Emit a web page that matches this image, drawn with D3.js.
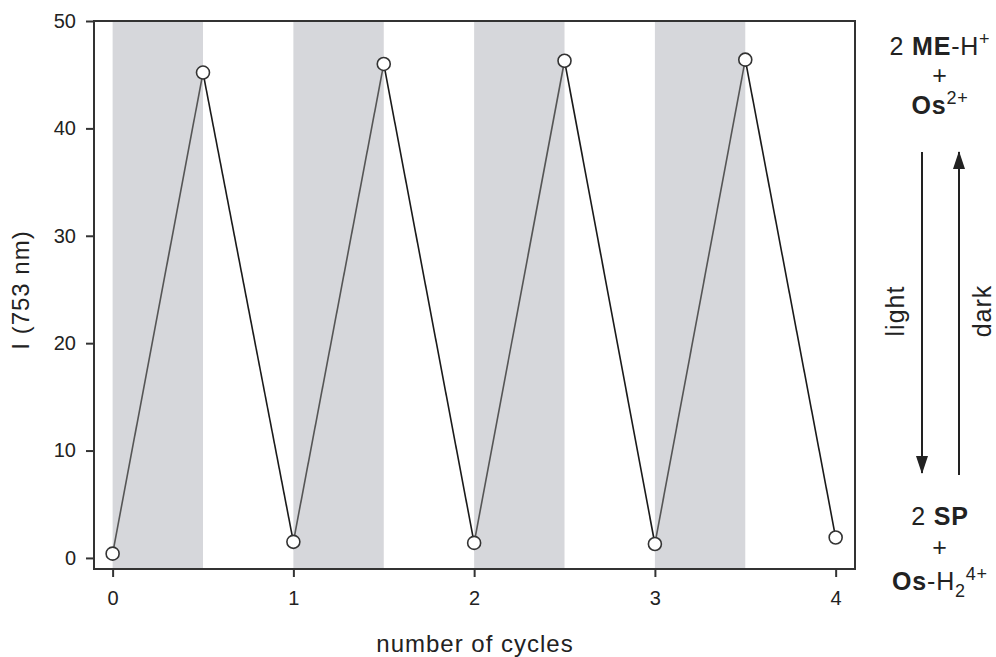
<!DOCTYPE html>
<html>
<head>
<meta charset="utf-8">
<script src="https://cdn.jsdelivr.net/npm/d3@7"></script>
<style>
  body { margin: 0; background: #fff; }
  svg text { font-family: "Liberation Sans", Arial, Helvetica, sans-serif; fill: #222; }
</style>
</head>
<body>
<svg id="chart"></svg>
<script>
// cycle position vs emission intensity at 753 nm
var cycles = [0, 0.5, 1, 1.5, 2, 2.5, 3, 3.5, 4];
var intensity = [0.4, 45.2, 1.5, 46.0, 1.4, 46.3, 1.3, 46.4, 1.9];
// shaded (light on) intervals
var lightStart = [0, 1, 2, 3];
var lightEnd = [0.5, 1.5, 2.5, 3.5];
var xTicks = [0, 1, 2, 3, 4];
var yTicks = [0, 10, 20, 30, 40, 50];

var width = 996, height = 657;
var svg = d3.select('#chart').attr('width', width).attr('height', height);

var plotL = 94, plotR = 855, plotT = 21, plotB = 569;

var x = d3.scaleLinear().domain([-0.103, 4.107]).range([plotL, plotR]);
var y = d3.scaleLinear().domain([-1.03, 50]).range([plotB, plotT]);

// light bands
svg.selectAll('rect.band')
  .data(lightStart)
  .enter()
  .append('rect')
  .attr('class', 'band')
  .attr('x', function(d) { return x(d); })
  .attr('width', function(d, i) { return x(lightEnd[i]) - x(d); })
  .attr('y', plotT)
  .attr('height', plotB - plotT - 1)
  .attr('fill', '#d6d7db');

// frame
svg.append('rect')
  .attr('x', plotL).attr('y', plotT)
  .attr('width', plotR - plotL).attr('height', plotB - plotT)
  .attr('fill', 'none').attr('stroke', '#333').attr('stroke-width', 2);

// axes
var yAxis = d3.axisLeft(y).tickValues(yTicks).tickFormat(d3.format('d'))
  .tickSize(8).tickSizeOuter(0).tickPadding(10);
var gy = svg.append('g').attr('transform', 'translate(' + plotL + ',0)').call(yAxis);
var xAxis = d3.axisBottom(x).tickValues(xTicks).tickFormat(d3.format('d'))
  .tickSize(8).tickSizeOuter(0).tickPadding(14);
var gx = svg.append('g').attr('transform', 'translate(0,' + plotB + ')').call(xAxis);
[gy, gx].forEach(function(g) {
  g.select('.domain').remove();
  g.selectAll('.tick line').attr('stroke', '#333').attr('stroke-width', 2);
  g.selectAll('.tick text').attr('font-size', 20).attr('fill', '#222')
    .style('font-family', '"Liberation Sans", Arial, sans-serif');
});

// connecting segments: rising ones lighter, falling ones darker
var segs = [];
for(var i = 0; i < cycles.length - 1; i++)
{
  segs.push({ x1: cycles[i], y1: intensity[i], x2: cycles[i + 1], y2: intensity[i + 1] });
}
svg.selectAll('line.seg')
  .data(segs)
  .enter()
  .append('line')
  .attr('class', 'seg')
  .attr('x1', function(d) { return x(d.x1); })
  .attr('y1', function(d) { return y(d.y1); })
  .attr('x2', function(d) { return x(d.x2); })
  .attr('y2', function(d) { return y(d.y2); })
  .attr('stroke', function(d) { return d.y2 > d.y1 ? '#555' : '#1a1a1a'; })
  .attr('stroke-width', 1.6);

svg.selectAll('circle.pt')
  .data(cycles)
  .enter()
  .append('circle')
  .attr('class', 'pt')
  .attr('cx', function(d) { return x(d); })
  .attr('cy', function(d, i) { return y(intensity[i]); })
  .attr('r', 6.5)
  .attr('fill', '#fff')
  .attr('stroke', '#333')
  .attr('stroke-width', 1.6);

// axis titles
svg.append('text')
  .attr('transform', 'translate(29,290) rotate(-90)')
  .attr('text-anchor', 'middle')
  .attr('font-size', 24)
  .style('letter-spacing', '1px')
  .text('I (753 nm)');

svg.append('text')
  .attr('x', 475).attr('y', 652)
  .attr('text-anchor', 'middle')
  .attr('font-size', 24)
  .style('letter-spacing', '1px')
  .text('number of cycles');

// reaction scheme on the right
var cx = 940;
function line(yPos, parts)
{
  var t = svg.append('text').attr('x', cx).attr('y', yPos)
    .attr('text-anchor', 'middle').attr('font-size', 25).style('letter-spacing', '0.8px');
  parts.forEach(function(p) {
    var s = t.append('tspan').text(p.t);
    if(p.b) s.attr('font-weight', 'bold');
    if(p.sup) s.attr('font-size', 18).attr('dy', -10);
    if(p.sub) s.attr('font-size', 18).attr('dy', 7);
    if(p.dy) s.attr('dy', p.dy);
  });
}
line(55, [{ t: '2 ' }, { t: 'ME', b: true }, { t: '-H' }, { t: '+', sup: true }]);
line(84, [{ t: '+' }]);
line(114, [{ t: 'Os', b: true }, { t: '2+', sup: true }]);
line(525, [{ t: '2 ' }, { t: 'SP', b: true }]);
line(556, [{ t: '+' }]);
line(590, [{ t: 'Os', b: true }, { t: '-H' }, { t: '2', sub: true }, { t: '4+', sup: true, dy: -17 }]);

var defs = svg.append('defs');
defs.append('marker')
  .attr('id', 'head')
  .attr('viewBox', '0 0 18 12')
  .attr('refX', 17).attr('refY', 6)
  .attr('markerWidth', 18).attr('markerHeight', 12)
  .attr('markerUnits', 'userSpaceOnUse')
  .attr('orient', 'auto')
  .append('path')
  .attr('d', 'M0,0 L18,6 L0,12 Z')
  .attr('fill', '#222');

// light: downward arrow
svg.append('line')
  .attr('x1', 922).attr('y1', 152).attr('x2', 922).attr('y2', 473)
  .attr('stroke', '#222').attr('stroke-width', 2)
  .attr('marker-end', 'url(#head)');
// dark: upward arrow
svg.append('line')
  .attr('x1', 959).attr('y1', 475).attr('x2', 959).attr('y2', 152)
  .attr('stroke', '#222').attr('stroke-width', 2)
  .attr('marker-end', 'url(#head)');

svg.append('text')
  .attr('transform', 'translate(904,311) rotate(-90)')
  .attr('text-anchor', 'middle')
  .attr('font-size', 25)
  .style('letter-spacing', '1px')
  .text('light');
svg.append('text')
  .attr('transform', 'translate(991,311) rotate(-90)')
  .attr('text-anchor', 'middle')
  .attr('font-size', 25)
  .style('letter-spacing', '1px')
  .text('dark');
</script>
</body>
</html>
